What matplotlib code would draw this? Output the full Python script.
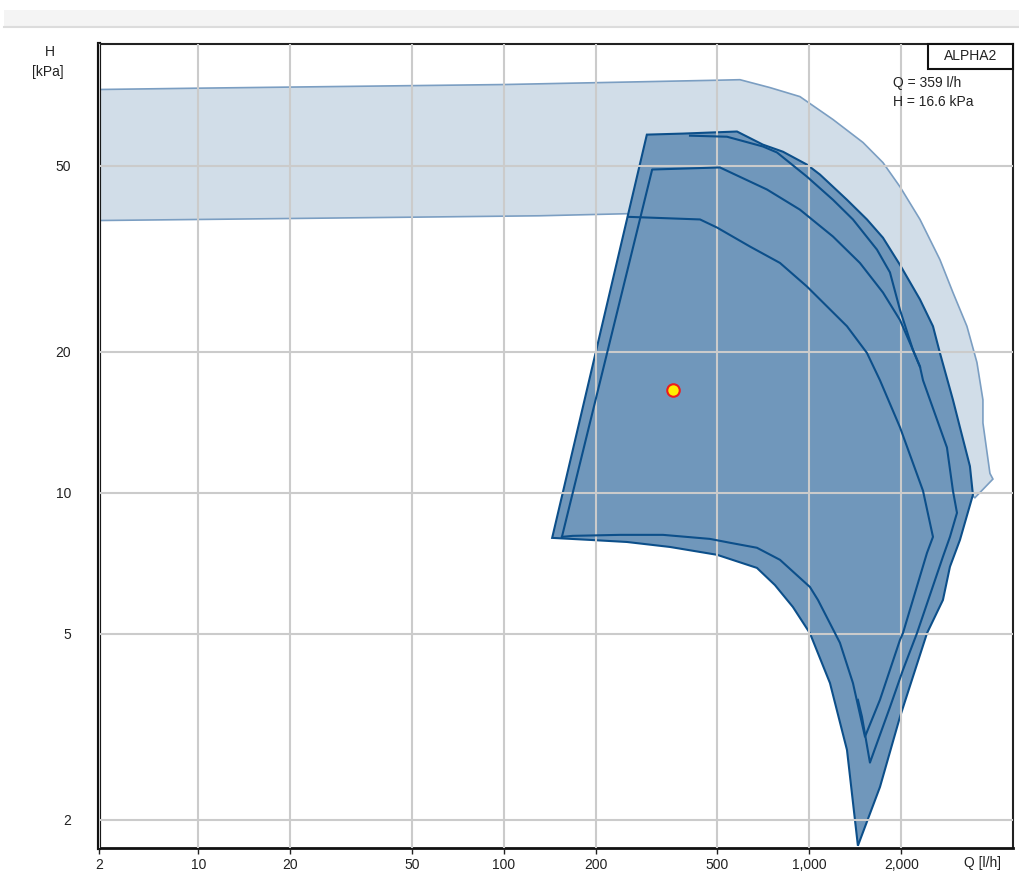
import matplotlib
matplotlib.use("Agg")
import matplotlib.pyplot as plt
from matplotlib.patches import Rectangle, Polygon
import numpy as np

plt.rcParams['font.family'] = ['Liberation Sans', 'DejaVu Sans']
plt.rcParams['font.size'] = 10

# axis range and ticks
q_min, q_max = 4.73, 4645
h_min, h_max = 1.738, 91.3
q_ticks = [q_min, 10, 20, 50, 100, 200, 500, 1000, 2000]
q_tick_labels = ['2', '10', '20', '50', '100', '200', '500', '1,000', '2,000']
h_ticks = [2, 5, 10, 20, 50]
h_tick_labels = ['2', '5', '10', '20', '50']

# light band (control range)
band_q = [4.73, 10.4, 100, 500, 593, 743, 932, 1196, 1499, 1743, 1982, 2304, 2678,
          2954, 3282, 3539, 3703, 3703, 3904, 3993, 3486, 253, 131, 21.5, 4.73]
band_h = [72.8, 73.3, 74.6, 76.2, 76.4, 73.5, 70.3, 62.8, 56.1, 50.8, 45.1, 38.4, 31.5,
          26.8, 22.7, 19.0, 15.8, 14.1, 11.0, 10.7, 9.76, 39.5, 39.1, 38.6, 38.2]

# dark area (max curve envelope)
max_q = [144, 294, 386, 580, 705, 820, 983, 1084, 1329, 1545, 1743, 1982, 2304, 2541,
         2678, 2954, 3114, 3357, 3434, 3114, 2888, 2739, 2429, 1982, 1704, 1443, 1329,
         1169, 1005, 884, 772, 674, 499, 350, 253, 192]
max_h = [8.01, 58.3, 58.6, 59.2, 55.5, 53.6, 50.3, 47.9, 42.3, 38.4, 35.1, 30.7, 25.9, 22.7,
         19.9, 15.8, 13.8, 11.4, 9.90, 7.93, 6.95, 5.90, 5.01, 3.32, 2.35, 1.76, 2.82,
         3.92, 5.01, 5.70, 6.35, 6.91, 7.37, 7.66, 7.85, 7.93]

# inner curves
b_q = [407, 538, 705, 784, 983, 1196, 1390, 1666, 1837, 1982, 2185, 2304, 2357, 2823,
       2954, 3045, 2888, 2739, 2252, 2026, 1837, 1580, 1488, 1443]
b_h = [58.0, 57.7, 55.0, 53.4, 47.4, 42.3, 38.4, 33.1, 29.6, 24.6, 20.2, 18.6, 17.4, 12.5,
       10.1, 9.06, 8.05, 7.30, 5.01, 4.18, 3.48, 2.65, 3.32, 3.61]

c_q = [155, 306, 510, 727, 932, 1196, 1465, 1743, 1982, 2185, 2304]
c_h = [8.05, 49.1, 49.6, 44.5, 40.3, 35.3, 31.0, 26.8, 23.4, 20.2, 18.6]

d_q = [255, 439, 499, 640, 802, 983, 1329, 1545, 1704, 1982, 2357, 2541, 2429, 2026,
       1982, 1704, 1522, 1390, 1260, 1068, 1005, 802, 674, 550, 473, 332, 240, 168, 155]
d_h = [38.9, 38.4, 36.9, 33.6, 31.0, 27.6, 22.7, 19.9, 17.4, 13.8, 10.1, 8.05, 7.44, 5.01,
       4.85, 3.61, 3.01, 3.92, 4.78, 5.90, 6.29, 7.19, 7.63, 7.82, 7.97, 8.13, 8.13, 8.09, 8.05]

# operating point
op_q, op_h = 359, 16.6
pump_name = 'ALPHA2'

line_col = '#0c4f8a'

fig = plt.figure(figsize=(10.19, 8.89), dpi=100)

# header strip
fig.patches.append(Rectangle((4/1019, 1-26/889), 1, 16/889, transform=fig.transFigure,
                             facecolor='#f4f4f4', edgecolor='none'))
fig.add_artist(plt.Line2D([4/1019, 1], [1-27/889, 1-27/889], transform=fig.transFigure,
                          color='#dcdcdc', lw=1.5))

ax = fig.add_axes([99/1019, 1-848.3/889, 914/1019, 804.8/889])
ax.set_xscale('log')
ax.set_yscale('log')
ax.set_xlim(q_min, q_max)
ax.set_ylim(h_min, h_max)

ax.add_patch(Polygon(np.column_stack([band_q, band_h]), closed=True,
                     facecolor='#d1dde8', edgecolor='#7b9ec2', lw=1.2, zorder=1))
ax.add_patch(Polygon(np.column_stack([max_q, max_h]), closed=True,
                     facecolor='#7097bb', edgecolor=line_col, lw=1.5, zorder=1.5))
ax.plot(b_q, b_h, color=line_col, lw=1.5, zorder=3)
ax.plot(c_q, c_h, color=line_col, lw=1.5, zorder=3)
ax.plot(d_q, d_h, color=line_col, lw=1.5, zorder=3)

ax.plot([op_q], [op_h], 'o', ms=9, mfc='#ffee00', mec='#ee1c1c', mew=1.5, zorder=4)

ax.set_xticks(q_ticks)
ax.set_xticklabels(q_tick_labels)
ax.set_yticks(h_ticks)
ax.set_yticklabels(h_tick_labels)
ax.minorticks_off()
ax.set_axisbelow(False)
ax.grid(True, color='#cbcbcb', lw=1.5)
ax.tick_params(axis='x', direction='out', length=4, width=1, pad=3, colors='#222222')
ax.tick_params(axis='y', direction='out', length=0, pad=20, colors='#222222')

for s in ['top', 'right']:
    ax.spines[s].set_linewidth(1.5)
    ax.spines[s].set_color('#222222')
ax.spines['bottom'].set_linewidth(2)
ax.spines['left'].set_linewidth(3)
ax.spines['bottom'].set_color('#111111')
ax.spines['left'].set_color('#111111')

# pump name box
ax.add_patch(Rectangle((0.907, 0.9683), 0.093, 0.0317, transform=ax.transAxes,
                       facecolor='white', edgecolor='#111111', lw=1.5, zorder=5, clip_on=False))
ax.text(0.9535, 0.9839, pump_name, transform=ax.transAxes, ha='center', va='center',
        color='#222222', zorder=6)
ax.text(0.8687, 0.951, 'Q = %d l/h' % op_q, transform=ax.transAxes, ha='left', va='center',
        color='#222222', zorder=6)
ax.text(0.8687, 0.9267, 'H = %.1f kPa' % op_h, transform=ax.transAxes, ha='left', va='center',
        color='#222222', zorder=6)

fig.text(50/1019, 1-52/889, 'H', ha='center', va='center', color='#222222')
fig.text(48/1019, 1-72/889, '[kPa]', ha='center', va='center', color='#222222')
fig.text(982/1019, 1-863/889, 'Q [l/h]', ha='center', va='center', color='#222222')

fig.savefig('out.png', dpi=100)
